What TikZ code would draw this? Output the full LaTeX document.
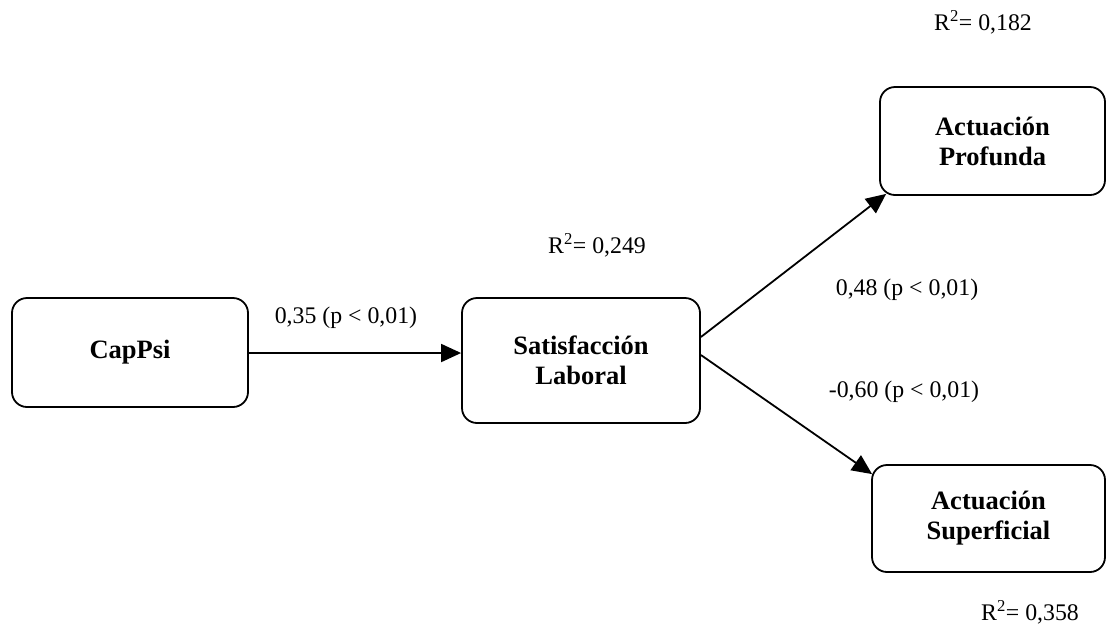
\documentclass[tikz,border=0pt]{standalone}
\usepackage{fontspec}
\setmainfont{Liberation Serif}
\usetikzlibrary{arrows.meta,calc}
\tikzset{
  box/.style={draw, line width=1.8pt, rounded corners=15pt, align=center,
    font=\fontsize{26.5}{30}\selectfont\bfseries, inner sep=0pt},
  lbl/.style={font=\fontsize{23.8}{28}\selectfont, inner sep=0pt},
  conn/.style={line width=1.8pt, -{Triangle[length=20pt,width=18pt]}}
}
\begin{document}
\begin{tikzpicture}[x=1pt,y=-1pt]
\useasboundingbox (0,0) rectangle (1107,625);
\node[box, minimum width=236pt, minimum height=109pt] (cap) at (130,352.5) {CapPsi};
\node[box, minimum width=238pt, minimum height=125pt] (sat) at (581,360.5) {Satisfacción\\Laboral};
\node[box, minimum width=225pt, minimum height=108pt] (ap) at (992.5,141) {Actuación\\Profunda};
\node[box, minimum width=233pt, minimum height=107pt] (as) at (988.5,518.5) {Actuación\\Superficial};

\draw[conn] (cap.east |- 0,353) -- (sat.west |- 0,353);
\draw[conn] ($(sat.east)+(0,-23.5)$) -- ($(ap.south west)+(7,-2)$);
\draw[conn] ($(sat.east)+(0,-5.5)$) -- ($(as.north west)+(1,10)$);

\node[lbl] (l1) at (346,318) {0,35 (p < 0,01)};
\node[lbl] (l2) at (907,290) {0,48 (p < 0,01)};
\node[lbl] (l3) at (904,392) {-0,60 (p < 0,01)};
\node[lbl] (r1) at (597,245) {R\textsuperscript{2}= 0,249};
\node[lbl] (r2) at (983,22) {R\textsuperscript{2}= 0,182};
\node[lbl] (r3) at (1030,612) {R\textsuperscript{2}= 0,358};
\end{tikzpicture}
\end{document}
